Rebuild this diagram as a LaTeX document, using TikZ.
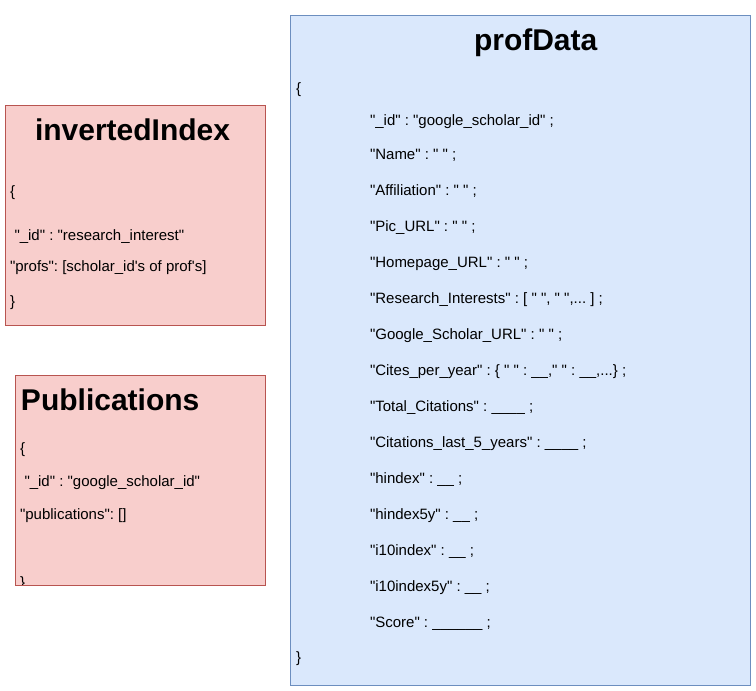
\documentclass[tikz,border=0pt]{standalone}
\usepackage{fontspec}
\newfontfamily\lib{Liberation Sans}
\definecolor{redfill}{HTML}{F8CECC}
\definecolor{redline}{HTML}{B85450}
\definecolor{bluefill}{HTML}{DAE8FC}
\definecolor{blueline}{HTML}{6C8EBF}
\frenchspacing
\tikzset{
  redbox/.style={draw=redline, fill=redfill, line width=0.75pt},
  bluebox/.style={draw=blueline, fill=bluefill, line width=0.75pt},
  txt/.style={anchor=base west, inner sep=0pt, outer sep=0pt, font=\lib\frenchspacing\fontsize{11.25}{13}\selectfont},
  ttl/.style={anchor=base west, inner sep=0pt, outer sep=0pt, font=\lib\bfseries\fontsize{22.5}{26}\selectfont}
}
\begin{document}
\begin{tikzpicture}[x=0.75pt,y=-0.75pt]
\useasboundingbox (0,0) rectangle (756,691);
% boxes
\path[redbox] (5.5,105.5) rectangle (265.5,325.5);
\coordinate (invNW) at (5.5,105.5);
\path[redbox] (15.5,375.5) rectangle (265.5,585.5);
\coordinate (pubNW) at (15.5,375.5);
\path[bluebox] (290.5,15.5) rectangle (750.5,685.5);
% invertedIndex
\node[ttl] (invT) at (35,141) {invertedIndex};
\node[txt] (inv1) at (10,197) {\{};
\node[txt] (inv2) at (14.5,240.5) {"\_id" : "research\_interest"};
\node[txt] (inv3) at (10,272) {"profs": [scholar\_id's of prof's]};
\node[txt] (inv4) at (10,306) {\}};
% Publications
\node[ttl] (pubT) at (21,410) {Publications};
\node[txt] (pub1) at (20,453) {\{};
\node[txt] (pub2) at (24.5,486) {"\_id" : "google\_scholar\_id"};
\node[txt] (pub3) at (20,519) {"publications": []};
\begin{scope}
\clip (15.5,375.5) rectangle (265.5,584.8);
\node[txt] (pub4) at (20,587) {\}};
\end{scope}
\draw[redline, line width=0.75pt] (15.5,585.5) -- (265.5,585.5);
% profData
\node[ttl] (profT) at (474,51) {profData};
\node[txt] (p0) at (296,94) {\{};
\node[txt] (p1) at (370,126) {"\_id" : "google\_scholar\_id" ;};
\node[txt] (p2) at (370,160) {"Name" : " " ;};
\node[txt] (p3) at (370,196) {"Affiliation" : " " ;};
\node[txt] (p4) at (370,232) {"Pic\_URL" : " " ;};
\node[txt] (p5) at (370,268) {"Homepage\_URL" : " " ;};
\node[txt] (p6) at (370,304) {"Research\_Interests" : [ " ", " ",... ] ;};
\node[txt] (p7) at (370,339.5) {"Google\_Scholar\_URL" : " " ;};
\node[txt] (p8) at (370,375.5) {"Cites\_per\_year" : \{ " " : \_\_," " : \_\_,...\} ;};
\node[txt] (p9) at (370,411) {"Total\_Citations" : \_\_\_\_ ;};
\node[txt] (p10) at (370,447) {"Citations\_last\_5\_years" : \_\_\_\_ ;};
\node[txt] (p11) at (370,483) {"hindex" : \_\_ ;};
\node[txt] (p12) at (370,519) {"hindex5y" : \_\_ ;};
\node[txt] (p13) at (370,555) {"i10index" : \_\_ ;};
\node[txt] (p14) at (370,591) {"i10index5y" : \_\_ ;};
\node[txt] (p15) at (370,627) {"Score" : \_\_\_\_\_\_ ;};
\node[txt] (p16) at (296,662.5) {\}};
\end{tikzpicture}
\end{document}
